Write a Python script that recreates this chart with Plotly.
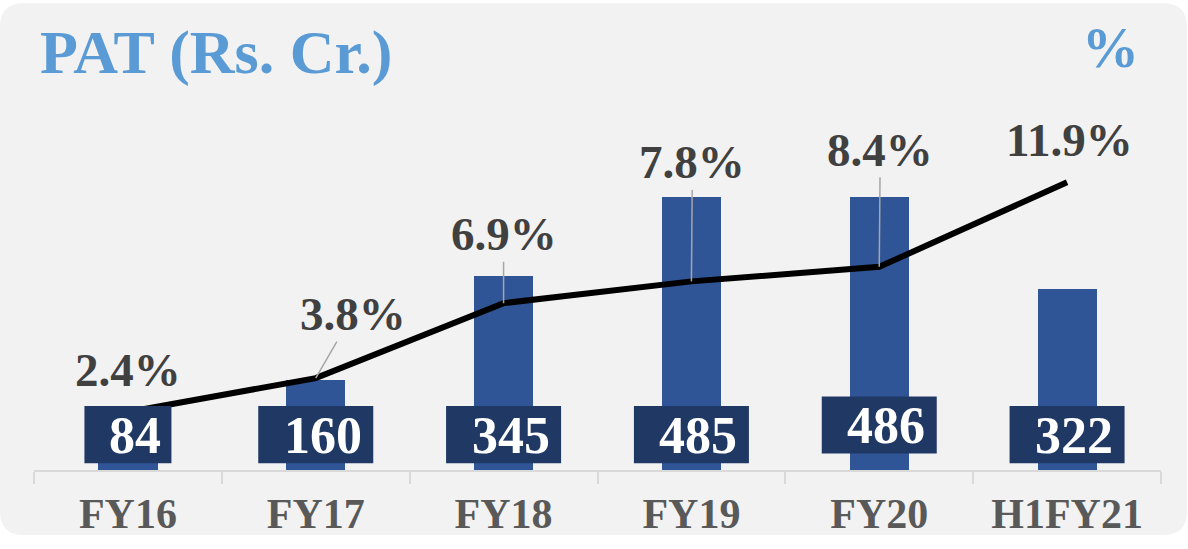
import plotly.graph_objects as go

# Profit after tax (Rs. Cr.) and PAT margin (%) by period
periods = ["FY16", "FY17", "FY18", "FY19", "FY20", "H1FY21"]
pat_values = [84, 160, 345, 485, 486, 322]
pat_margin = [2.4, 3.8, 6.9, 7.8, 8.4, 11.9]

W, H = 1188, 549
L, R, T, B = 34, 27, 100, 67
PW, PH = W - L - R, H - T - B
SERIF = "Liberation Serif"


def px_x(px):
    return (px - L) / PW


def px_y(py):
    return (H - B - py) / PH


fig = go.Figure()

fig.add_trace(go.Bar(
    x=periods, y=pat_values, width=0.315,
    marker=dict(color="#2f5597", line=dict(width=0)),
    hoverinfo="skip", yaxis="y",
))

fig.add_trace(go.Scatter(
    x=periods, y=pat_margin, mode="lines",
    line=dict(color="#000000", width=6),
    hoverinfo="skip", yaxis="y2",
))

# rounded card background
r = 24
x0, x1 = px_x(0), px_x(1187)
y0, y1 = px_y(549), px_y(0)
rx, ry = r / PW, r / PH
path = (f"M {x0+rx},{y1} L {x1-rx},{y1} Q {x1},{y1} {x1},{y1-ry} "
        f"L {x1},{y0+ry} Q {x1},{y0} {x1-rx},{y0} L {x0+rx},{y0} "
        f"Q {x0},{y0} {x0},{y0+ry} L {x0},{y1-ry} Q {x0},{y1} {x0+rx},{y1} Z")
shapes = [dict(type="path", path=path, xref="paper", yref="paper",
               fillcolor="#f2f2f2", line=dict(width=0), layer="below")]

annotations = []

# value boxes on the bars
cat_px = PW / len(periods)
for i, v in enumerate(pat_values):
    bw = 87 if v < 100 else 115
    cy = 435.5 if periods[i] == "FY20" else 445.5
    half = bw / 2 / cat_px
    shapes.append(dict(type="rect", xref="x", yref="paper",
                       x0=i - half, x1=i + half,
                       y0=px_y(cy + 29.5), y1=px_y(cy - 29.5),
                       fillcolor="#203864", line=dict(width=0), layer="above"))
    annotations.append(dict(x=periods[i], y=px_y(cy + 1), xref="x", yref="paper",
                            text=str(v), showarrow=False, xshift=7,
                            xanchor="center", yanchor="middle",
                            font=dict(family=SERIF, size=52, color="#ffffff",
                                      weight="bold")))

# margin labels with leader lines
offsets = {
    "FY16": (0, -42, False),
    "FY17": (37, -64, True),
    "FY18": (0, -69, True),
    "FY19": (1, -119, True),
    "FY20": (1, -117, True),
    "H1FY21": (2, -42, False),
}
for p, m in zip(periods, pat_margin):
    ax, ay, arrow = offsets[p]
    a = dict(x=p, y=m, xref="x", yref="y2", text=f"{m:.1f}%",
             font=dict(family=SERIF, size=47, color="#404040", weight="bold"))
    if arrow:
        a.update(showarrow=True, ax=ax, ay=ay, arrowhead=0, arrowwidth=1.5,
                 arrowcolor="#a6a6a6", standoff=0, startstandoff=0)
    else:
        a.update(showarrow=False, xshift=ax, yshift=-ay)
    annotations.append(a)

annotations.append(dict(x=px_x(38), y=px_y(51), xref="paper", yref="paper",
                        text="PAT (Rs. Cr.)", showarrow=False,
                        xanchor="left", yanchor="middle",
                        font=dict(family=SERIF, size=62, color="#5b9bd5",
                                  weight="bold")))
annotations.append(dict(x=px_x(1110), y=px_y(46), xref="paper", yref="paper",
                        text="%", showarrow=False,
                        xanchor="center", yanchor="middle",
                        font=dict(family=SERIF, size=57, color="#5b9bd5",
                                  weight="bold")))

fig.update_layout(
    width=W, height=H,
    margin=dict(l=L, r=R, t=T, b=B, pad=0),
    paper_bgcolor="#ffffff", plot_bgcolor="rgba(0,0,0,0)",
    showlegend=False, bargap=0,
    shapes=shapes, annotations=annotations,
    xaxis=dict(
        type="category", showline=True, linecolor="#d9d9d9", linewidth=2,
        ticks="outside", ticklen=12, tickcolor="#d9d9d9", tickwidth=2,
        tickson="boundaries", showgrid=False, zeroline=False,
        ticklabelstandoff=6,
        tickfont=dict(family=SERIF, size=42, color="#595959", weight="bold"),
        fixedrange=True,
    ),
    yaxis=dict(range=[0, 658], visible=False, showgrid=False, fixedrange=True),
    yaxis2=dict(range=[0, 15.3], overlaying="y", visible=False,
                showgrid=False, fixedrange=True),
)

fig.write_html("out.html", config={"displayModeBar": False})
